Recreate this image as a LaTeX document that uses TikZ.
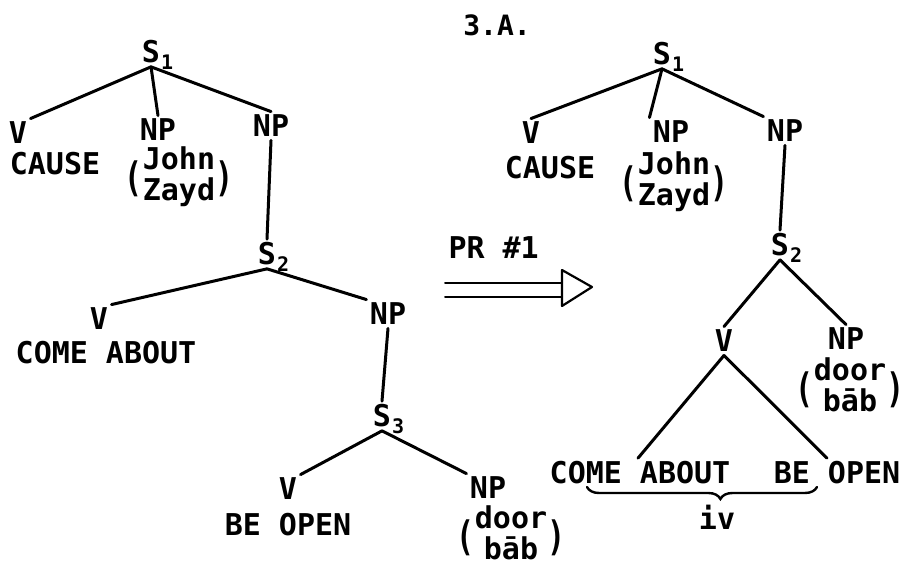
\documentclass[tikz,border=0pt]{standalone}
\usepackage{fontspec}
\usetikzlibrary{decorations.pathreplacing}
\newfontfamily\tw{DejaVu Sans Mono}
\newcommand\Sx[1]{S\rlap{\smash{\raisebox{-7pt}{\kern1pt\fontsize{20}{20}\selectfont #1}}}}
\newcommand\Two[2]{\raisebox{-7pt}{\scalebox{1}[1.35]{(}}\begin{tabular}{@{}c@{}}#1\\[-1pt]#2\end{tabular}\raisebox{-7pt}{\scalebox{1}[1.35]{)}}}
\tikzset{lab/.style = {inner sep = 2pt, font = \tw\bfseries\fontsize{30}{31}\selectfont}}
\begin{document}
\begin{tikzpicture} [x = 1pt, y = -1pt, line width = 3pt, line cap = round]
        \useasboundingbox (0,0) rectangle (906,565);
        \node [lab, font = \tw\bfseries\fontsize{28}{30}\selectfont] (title) at (497,25) {3.A.};
        
        % left tree
        \node [lab] (ls1) at (151,52) {\Sx{1}};
        \node [lab] (lv1) at (18,133) {V};
        \node [lab] (lnp1) at (158,130) {NP};
        \node [lab] (lnp2) at (271,126) {NP};
        \node [lab] (lcause) at (55,164) {CAUSE};
        \node [lab] (ljohn) at (179,178) {\Two{John}{Zayd}};
        \node [lab] (ls2) at (267,254) {\Sx{2}};
        \node [lab] (lv2) at (99,319) {V};
        \node [lab] (lnp3) at (388,314) {NP};
        \node [lab] (lcome) at (106,353) {COME ABOUT};
        \node [lab] (ls3) at (382,416) {\Sx{3}};
        \node [lab] (lv3) at (288,489) {V};
        \node [lab] (lnp4) at (488,488) {NP};
        \node [lab] (lbe) at (288,525) {BE OPEN};
        \node [lab] (ldoor) at (511,537) {\Two{door}{bāb}};
        
        \path (ls1.south) edge (lv1.north east);
        \path (ls1.south) edge (lnp1.north);
        \path (ls1.south) edge (lnp2.north);
        \path (lnp2.south) edge (ls2.north);
        \path (ls2.south) edge (lv2.north east);
        \path (ls2.south) edge (lnp3.north west);
        \path (lnp3.south) edge (ls3.north);
        \path (ls3.south) edge (lv3.north east);
        \path (ls3.south) edge (lnp4.north west);
        
        % rule arrow
        \node [lab, anchor = south west] (pr) at (445,262) {PR \#1};
        \coordinate (ra) at (445,290);
        \coordinate (rb) at (562,290);
        \draw [line width = 2pt] ([yshift = 7pt]ra) -- ([yshift = 7pt]rb);
        \draw [line width = 2pt] ([yshift = -7pt]ra) -- ([yshift = -7pt]rb);
        \draw [line width = 2.2pt, line join = round] (rb) ++(0,-20) -- ++(30,17) -- ++(-30,19) -- cycle;
        
        % right tree
        \node [lab] (rs1) at (662,54) {\Sx{1}};
        \node [lab] (rv1) at (531,133) {V};
        \node [lab] (rnp1) at (671,132) {NP};
        \node [lab] (rnp2) at (785,131) {NP};
        \node [lab] (rcause) at (550,168) {CAUSE};
        \node [lab] (rjohn) at (674,183) {\Two{John}{Zayd}};
        \node [lab] (rs2) at (780,245) {\Sx{2}};
        \node [lab] (rv2) at (724,341) {V};
        \node [lab] (rnp3) at (846,339) {NP};
        \node [lab] (rdoor) at (850,389) {\Two{door}{bāb}};
        \node [lab] (rcome) at (640,473) {COME ABOUT};
        \node [lab] (rbe) at (837,473) {BE OPEN};
        \node [lab] (riv) at (717,517) {iv};
        
        \path (rs1.south) edge (rv1.north);
        \path (rs1.south) edge (rnp1.north west);
        \path (rs1.south) edge (rnp2.north west);
        \path (rnp2.south) edge (rs2.north);
        \path (rs2.south) edge (rv2.north);
        \path (rs2.south) edge (rnp3.north);
        \path (rv2.south) edge ([xshift = -2pt]rcome.north);
        \path (rv2.south) edge ([xshift = -10pt]rbe.north);
        
        \coordinate (bl) at (587,487);
        \coordinate (br) at (817,487);
        \draw [line width = 2.4pt, decorate, decoration = {brace, mirror, amplitude = 12pt, aspect = 0.58}] (bl) -- (br);
        
    \end{tikzpicture}
\end{document}
